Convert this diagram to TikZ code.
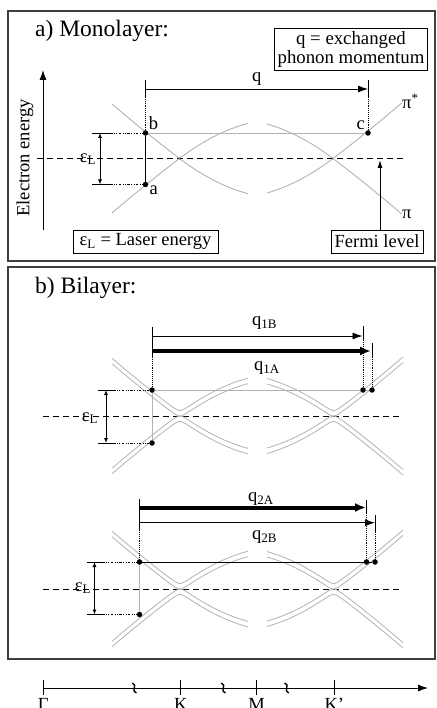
\documentclass[tikz,border=0pt]{standalone}
\usepackage{fontspec}
\setmainfont{Liberation Serif}
\usetikzlibrary{arrows.meta,positioning}

\begin{document}
\begin{tikzpicture}[x=1pt,y=-1pt,>={Latex[length=10pt,width=7pt]},
          every node/.style={font=\fontsize{18.5}{19}\selectfont,inner sep=2pt},
          panel/.style={draw=black!75,line width=1.4pt},
          band/.style={gray!60,line width=0.9pt},
          dot/.style={circle,fill=black,inner sep=0pt,minimum size=5.5pt},
          guide/.style={densely dotted,line width=0.9pt},
          lead/.style={line width=0.8pt,dash pattern=on 2.5pt off 1.5pt on 0.8pt off 1.5pt on 0.8pt off 1.5pt},
          epsarrow/.style={{Latex[length=5pt,width=4pt]}-{Latex[length=5pt,width=4pt]},line width=0.9pt},
          fermiline/.style={line width=0.9pt,dash pattern=on 6pt off 4pt},
          textbox/.style={draw,line width=0.9pt,minimum height=23pt,inner sep=3pt},
          thickq/.style={line width=4pt,-{Latex[length=11pt,width=9pt]}},
          declare function={disp(\u)=0.76*abs(\u)+(\u<0)*0.0007*\u*\u-(\u>0)*0.0036*\u*\u;
            lo(\u)=sqrt(7.5625+disp(\u)^2)-2.75;
            hi(\u)=sqrt(7.5625+disp(\u)^2)+2.75;}]
        \useasboundingbox (0,0) rectangle (436,708);
        % a) monolayer
        \draw[panel] (8,11) rectangle (435,261);
        \node[anchor=base west,font=\fontsize{23.5}{25}\selectfont] (mono) at (33,36.5) {a) Monolayer:};
        \node[textbox,align=center,inner xsep=3.5pt,font=\fontsize{18.8}{19}\selectfont] (qbox) at (351,49.5) {q = exchanged\\phonon momentum};
        \coordinate (eup) at (43,70);
        \coordinate (elow) at (43,230);
        \draw[->,line width=0.9pt] (elow) -- (eup);
        \node[rotate=90] (energy) at (25,158) {Electron energy};
        \coordinate (fermiL) at (37,158.5);
        \coordinate (fermiR) at (403,158.5);
        \draw[fermiline] (fermiL) -- (fermiR);
        \foreach \xk/\xa/\xb/\sg in {179.5/112/248/1,333/267/402/-1} {
          \draw[band] plot[domain=\xa:\xb,samples=60] (\x,{158.5-disp(\sg*(\x-\xk))});
          \draw[band] plot[domain=\xa:\xb,samples=60] (\x,{158.5+disp(\sg*(\x-\xk))});
        }
        \node[dot] (b) at (145.5,133) {};
        \node[dot] (a) at (145.5,184.5) {};
        \node[dot] (c) at (368,133) {};
        \draw[band] (b) -- (c);
        \draw[line width=1.4pt] (b) -- (a);
        \node[anchor=south west,inner sep=1pt] (lb) at (b.north east) {b};
        \node[anchor=south east,inner sep=1pt] (lc) at (c.north west) {c};
        \node[anchor=north west,inner sep=1pt] (la) at (a.east) {a};
        \coordinate (qs) at (145.5,89);
        \coordinate (qe) at (368,89);
        \draw[->,line width=0.9pt] (qs) -- (qe) node[midway,above=1pt] (q) {q};
        \draw[line width=0.9pt] (145.5,80) -- (145.5,97);
        \draw[guide] (145.5,97) -- (b);
        \draw[line width=0.9pt] (368,80) -- (368,97);
        \draw[guide] (368,97) -- (c);
        \coordinate (eps1) at (100,133);
        \coordinate (eps2) at (100,184.5);
        \draw[epsarrow] (eps1) -- (eps2);
        \draw[line width=0.9pt] (92,133) -- (110,133);
        \draw[lead] (110,133) -- (b);
        \draw[line width=0.9pt] (92,184.5) -- (110,184.5);
        \draw[lead] (110,184.5) -- (a);
        \node (epsa) at (88,159) {ε\textsubscript{L}};
        \node[textbox,minimum width=145pt] (laser) at (145.5,241.5) {ε\textsubscript{L} = Laser energy};
        \node[textbox,minimum width=92pt] (fermi) at (377,241.5) {Fermi level};
        \coordinate (ftip) at (380,160);
        \draw[line width=0.9pt,-{Latex[length=8pt,width=5pt]}] (fermi.north -| ftip) -- (ftip);
        \node[anchor=base west,inner sep=0pt] (pistar) at (402,108.5) {π\textsuperscript{*}};
        \node[anchor=base west,inner sep=0pt] (pi) at (402,218.3) {π};
        % b) bilayer
        \draw[panel] (8,267) rectangle (435,659);
        \node[anchor=base west,font=\fontsize{23.5}{25}\selectfont] (bi) at (33,293.3) {b) Bilayer:};
        \foreach \yk in {416,589} {
          \draw[fermiline] (43,\yk) -- (403,\yk);
          \foreach \xk/\xa/\xb/\sg in {180/112/248/1,333.5/267/403/-1} {
            \draw[band,line width=0.8pt] plot[domain=\xa:\xb,samples=70] (\x,{\yk-hi(\sg*(\x-\xk))});
            \draw[band,line width=0.8pt] plot[domain=\xa:\xb,samples=70] (\x,{\yk-lo(\sg*(\x-\xk))});
            \draw[band,line width=0.8pt] plot[domain=\xa:\xb,samples=70] (\x,{\yk+lo(\sg*(\x-\xk))});
            \draw[band,line width=0.8pt] plot[domain=\xa:\xb,samples=70] (\x,{\yk+hi(\sg*(\x-\xk))});
          }
        }
        \node[dot] (p1l) at (152,390) {};
        \node[dot] (p1d) at (152,443) {};
        \node[dot] (p1b) at (363,390) {};
        \node[dot] (p1a) at (372,390) {};
        \draw[band] (p1l) -- (p1b);
        \draw[band] (p1b) -- (p1a);
        \draw[band] (p1l) -- (p1d);
        \coordinate (q1bs) at (152,336);
        \coordinate (q1be) at (362.5,336);
        \draw[->,line width=0.9pt] (q1bs) -- (q1be);
        \coordinate (q1as) at (152,351);
        \coordinate (q1ae) at (371,351);
        \draw[thickq] (q1as) -- (q1ae);
        \draw[line width=0.9pt] (152,327) -- (152,357);
        \draw[guide] (152,357) -- (p1l);
        \draw[line width=0.9pt] (363,326) -- (363,340);
        \draw[guide] (363,340) -- (p1b);
        \draw[line width=0.9pt] (372,343) -- (372,357);
        \draw[guide] (372,357) -- (p1a);
        \node (q1b) at (264.5,323.5) {q\textsubscript{1B}};
        \node (q1a) at (267,368.3) {q\textsubscript{1A}};
        \coordinate (eps3) at (106,390);
        \coordinate (eps4) at (106,443);
        \draw[epsarrow] (eps3) -- (eps4);
        \draw[line width=0.9pt] (98,390) -- (113,390);
        \draw[lead] (113,390) -- (p1l);
        \draw[line width=0.9pt] (98,443) -- (113,443);
        \draw[lead] (113,443) -- (p1d);
        \node (epsb) at (90,418) {ε\textsubscript{L}};
        \node[dot] (p2l) at (139.5,562) {};
        \node[dot] (p2d) at (139.5,614.5) {};
        \node[dot] (p2a) at (366.5,562) {};
        \node[dot] (p2b) at (375,562) {};
        \draw[line width=0.9pt] (p2l) -- (p2a);
        \draw[line width=0.9pt] (p2a) -- (p2b);
        \draw[band] (p2l) -- (p2d);
        \coordinate (q2as) at (139.5,507.5);
        \coordinate (q2ae) at (366,507.5);
        \draw[thickq] (q2as) -- (q2ae);
        \coordinate (q2bs) at (139.5,522.7);
        \coordinate (q2be) at (375,522.7);
        \draw[->,line width=0.9pt] (q2bs) -- (q2be);
        \draw[line width=0.9pt] (139.5,499) -- (139.5,530);
        \draw[guide] (139.5,530) -- (p2l);
        \draw[line width=0.9pt] (366.5,500) -- (366.5,513);
        \draw[guide] (366.5,513) -- (p2a);
        \draw[line width=0.9pt] (375,515) -- (375,532);
        \draw[guide] (375,532) -- (p2b);
        \node (q2a) at (261,499) {q\textsubscript{2A}};
        \node (q2b) at (264.5,537.5) {q\textsubscript{2B}};
        \coordinate (eps5) at (94.5,562);
        \coordinate (eps6) at (94.5,614.5);
        \draw[epsarrow] (eps5) -- (eps6);
        \draw[line width=0.9pt] (87,562) -- (102,562);
        \draw[lead] (102,562) -- (p2l);
        \draw[line width=0.9pt] (87,614.5) -- (102,614.5);
        \draw[lead] (102,614.5) -- (p2d);
        \node (epsc) at (83,588) {ε\textsubscript{L}};
        % k axis
        \coordinate (kstart) at (43.3,688);
        \coordinate (kend) at (428,688);
        \draw[->,line width=0.9pt] (kstart) -- (kend);
        \foreach \xp/\lab/\nm in {43.3/Γ/gam,180.7/K/kk,256.7/M/mm,334.3/K'/kp} {
          \draw[line width=0.9pt] (\xp,680) -- (\xp,695);
          \node[anchor=north] (\nm) at (\xp,696) {\lab};
        }
        \foreach \xp in {134.3,223.3,286.7}
          \draw[line width=1.4pt] ({\xp-2},683) .. controls ({\xp+4},685) and ({\xp-4},691) .. ({\xp+2},693);
      \end{tikzpicture}
\end{document}
